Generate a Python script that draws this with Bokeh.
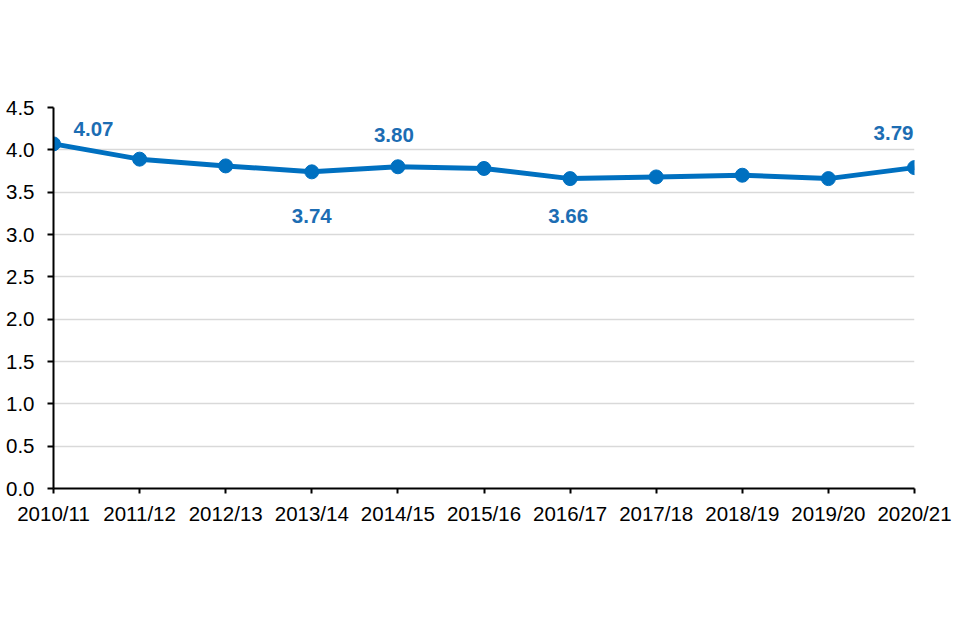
from bokeh.plotting import figure
from bokeh.models import Range1d, FixedTicker, ColumnDataSource
from bokeh.core.properties import value
from bokeh.embed import file_html
from bokeh.resources import INLINE

# ---- data ----
years = ["2010/11", "2011/12", "2012/13", "2013/14", "2014/15", "2015/16",
         "2016/17", "2017/18", "2018/19", "2019/20", "2020/21"]
rates = [4.07, 3.89, 3.81, 3.74, 3.80, 3.78, 3.66, 3.68, 3.70, 3.66, 3.79]
y_ticks = [0.0, 0.5, 1.0, 1.5, 2.0, 2.5, 3.0, 3.5, 4.0, 4.5]
labelled = [0, 3, 4, 6, 10]          # indices of points that carry a data label

# ---- styles ----
LINE = "#0070C0"
LABEL = "#1C6DB3"
FONT = "Liberation Sans"
label_dx = [40, 0, -4, -2, -21]      # pixel offsets of the data labels
label_dy = [-15, 44, -32, 37, -35]   # screen pixels, positive = down

xs = list(range(len(years)))

p = figure(width=960, height=640, output_backend="svg", toolbar_location=None,
           x_range=Range1d(0, len(years) - 1), y_range=Range1d(0, 4.5),
           min_border_left=53, min_border_right=46, min_border_top=107,
           min_border_bottom=152)
p.outline_line_color = None
p.background_fill_color = "white"
p.border_fill_color = "white"

# axes
p.xaxis.ticker = FixedTicker(ticks=xs)
p.xaxis.major_label_overrides = {i: y for i, y in enumerate(years)}
p.yaxis.ticker = FixedTicker(ticks=y_ticks)
p.yaxis.major_label_overrides = {t: f"{t:.1f}" for t in y_ticks}
for ax in (p.xaxis, p.yaxis):
    ax.axis_line_color = "black"
    ax.axis_line_width = 2
    ax.major_tick_line_color = "black"
    ax.major_tick_line_width = 2
    ax.major_tick_in = 0
    ax.minor_tick_line_color = None
    ax.major_label_text_font = FONT
    ax.major_label_text_font_size = "20.5px"
    ax.major_label_text_color = "black"
p.xaxis.major_tick_out = 5
p.xaxis.major_label_standoff = 8
p.yaxis.major_tick_out = 6
p.yaxis.major_label_standoff = 13

p.xgrid.grid_line_color = None
p.ygrid.grid_line_color = "#d9d9d9"
p.ygrid.grid_line_width = 1.5

src = ColumnDataSource(dict(x=xs, y=rates))
p.line("x", "y", source=src, line_color=LINE, line_width=5)
p.scatter("x", "y", source=src, size=14, fill_color=LINE, line_color=LINE)

lab = ColumnDataSource(dict(
    x=[xs[i] for i in labelled],
    y=[rates[i] for i in labelled],
    t=[f"{rates[i]:.2f}" for i in labelled],
    dx=label_dx,
    dy=label_dy,
))
p.text("x", "y", text="t", source=lab, x_offset="dx", y_offset="dy",
       text_align="center", text_baseline="middle", text_color=LABEL,
       text_font=value(FONT), text_font_size="20.5px", text_font_style="bold")

open("out.html", "w").write(file_html(p, INLINE))
